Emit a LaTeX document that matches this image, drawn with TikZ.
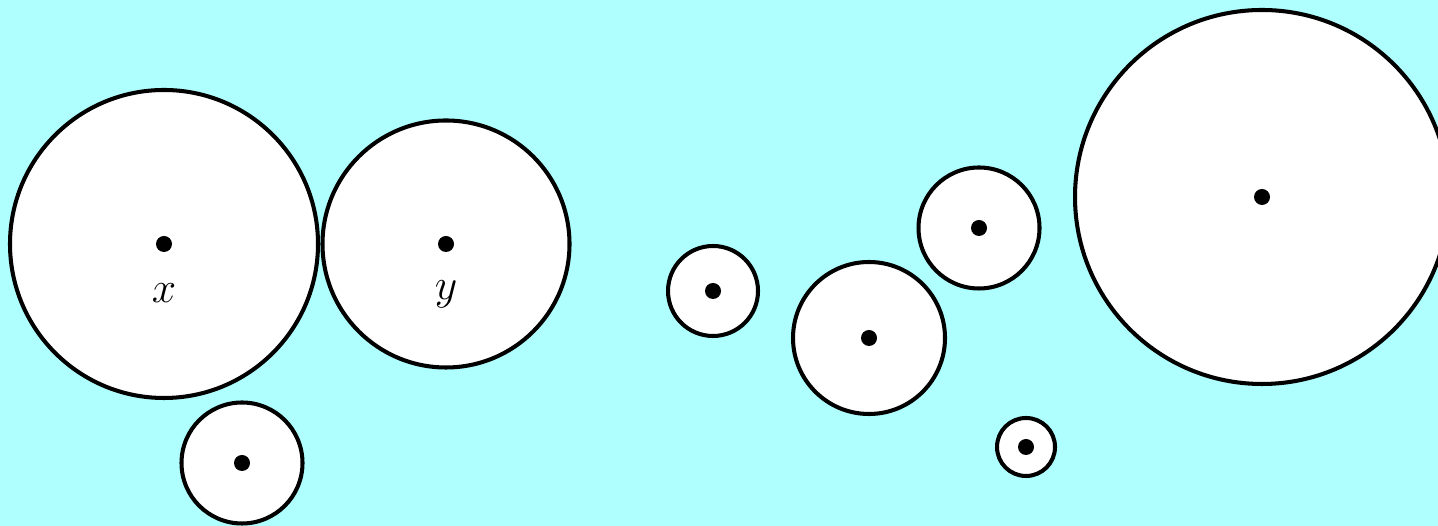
\documentclass[tikz,border=0pt]{standalone}
\usepackage{amsmath}
\usepackage{tikz}
\usepackage{xcolor}
\usetikzlibrary{positioning}
\definecolor{bgcyan}{HTML}{B0FFFF}

\begin{document}
\begin{tikzpicture}[
  % white discs, thick black rim
  disc/.style={circle, draw=black, fill=white, line width=2.3pt, inner sep=0pt, minimum size=#1},
  centredot/.style={circle, fill=black, inner sep=0pt, minimum size=0.32cm},
  lbl/.style={font=\fontsize{26}{30}\selectfont, inner sep=0pt, anchor=base},
]
\fill[bgcyan] (0,0) rectangle (28.76,10.52);
\useasboundingbox (0,0) rectangle (28.76,10.52);

% name / centre / radius
\foreach \nm/\cx/\cy/\r in {c1/3.28/5.64/3.08, c2/8.92/5.64/2.47, c3/4.84/1.26/1.21,
                             c4/14.26/4.70/0.90, c5/17.38/3.76/1.52, c6/19.58/5.96/1.21,
                             c7/20.52/1.58/0.58, c8/25.24/6.58/3.74} {
  \node[disc=2*\r cm] (\nm) at (\cx,\cy) {};
  \node[centredot] (\nm dot) at (\nm.center) {};
}

\path (c1.center) ++(0,-1.18) node[lbl] (lx) {$x$};
\path (c2.center) ++(0,-1.12) node[lbl] (ly) {$y$};
\end{tikzpicture}
\end{document}
